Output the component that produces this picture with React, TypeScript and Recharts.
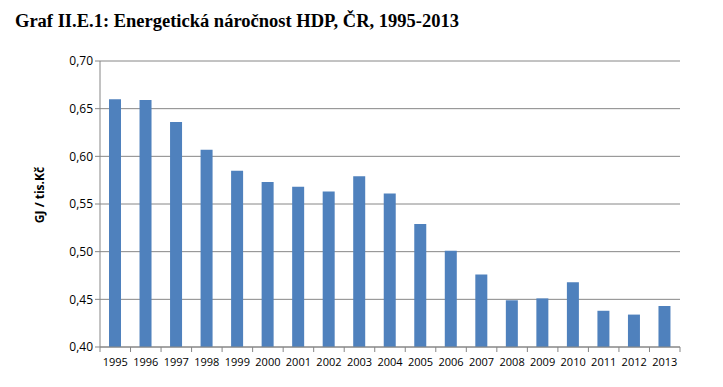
import React from "react";
import { BarChart, Bar, XAxis, YAxis, CartesianGrid } from "recharts";

const years = ["1995","1996","1997","1998","1999","2000","2001","2002","2003","2004","2005","2006","2007","2008","2009","2010","2011","2012","2013"];
const intensity = [0.660,0.659,0.636,0.607,0.585,0.573,0.568,0.563,0.579,0.561,0.529,0.501,0.476,0.449,0.451,0.468,0.438,0.434,0.443];
const yTicks = [0.40,0.45,0.50,0.55,0.60,0.65,0.70];

const data = years.map((y, i) => ({ year: y, value: intensity[i] }));

const AXIS = "#868686";
const N = years.length;

const XTick = (props: any) => {
  const { x, y, payload, index } = props;
  const band = 580 / N;
  const left = x - band / 2;
  return (
    <g>
      <line x1={left} y1={y - 8} x2={left} y2={y - 3} stroke={AXIS} strokeWidth={1} />
      {index === N - 1 && (
        <line x1={x + band / 2} y1={y - 8} x2={x + band / 2} y2={y - 3} stroke={AXIS} strokeWidth={1} />
      )}
      <text x={x} y={y + 11} textAnchor="middle" fontSize={11} fill="#000" fontFamily="'Open Sans', sans-serif">
        {payload.value}
      </text>
    </g>
  );
};

export default function App() {
  return (
    <div style={{ position: "absolute", left: 0, top: 0, width: 723, height: 387, background: "#fff" }}>
      <div
        style={{
          position: "absolute",
          left: 15,
          top: 11.5,
          lineHeight: 1,
          fontFamily: "'Liberation Serif', 'Times New Roman', serif",
          fontWeight: "bold",
          fontSize: 18.5,
          color: "#000",
          whiteSpace: "nowrap",
        }}
      >
        Graf II.E.1: Energetická náročnost HDP, ČR, 1995-2013
      </div>
      <div
        style={{
          position: "absolute",
          left: 40,
          top: 195,
          lineHeight: 1,
          transform: "translate(-50%, -50%) rotate(-90deg)",
          fontFamily: "'Open Sans', sans-serif",
          fontWeight: "bold",
          fontSize: 12,
          whiteSpace: "nowrap",
        }}
      >
        GJ / tis.Kč
      </div>
      <div style={{ position: "absolute", left: 0, top: 0 }}>
        <BarChart width={723} height={387} data={data} margin={{ top: 61, right: 43, bottom: 10, left: 40 }}>
          <CartesianGrid vertical={false} stroke={AXIS} strokeWidth={1} />
          <XAxis
            dataKey="year"
            height={30}
            stroke={AXIS}
            tickLine={false}
            tick={<XTick />}
            interval={0}
          />
          <YAxis
            width={60}
            domain={[0.4, 0.7]}
            ticks={yTicks}
            stroke={AXIS}
            tickSize={5}
            tickFormatter={(v: number) => v.toFixed(2).replace(".", ",")}
            tick={{ fill: "#000", fontSize: 12, fontFamily: "'Open Sans', sans-serif" }}
            allowDataOverflow
          />
          <Bar dataKey="value" fill="#4F81BD" barSize={12} isAnimationActive={false} />
        </BarChart>
      </div>
    </div>
  );
}
